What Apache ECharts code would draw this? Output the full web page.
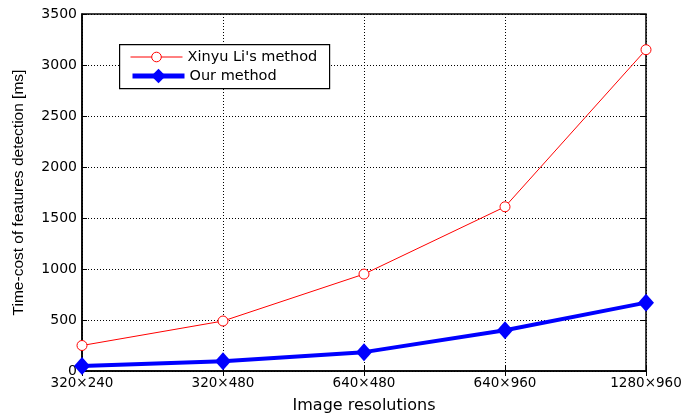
<!DOCTYPE html>
<html><head><meta charset="utf-8">
<script src="https://cdn.jsdelivr.net/npm/echarts@6/dist/echarts.min.js"></script>
<style>html,body{margin:0;padding:0;background:#fff}#c{width:683px;height:414px}</style>
</head><body><div id="c"></div>
<script>
const categories = ['320×240','320×480','640×480','640×960','1280×960'];
const xinyuValues = [250, 490, 950, 1610, 3150];
const ourValues = [50, 95, 185, 400, 670];
const yTicks = [0,500,1000,1500,2000,2500,3000,3500];
const seriesNames = ["Xinyu Li's method", 'Our method'];

const wide = 'DejaVu Sans, sans-serif';
const narrow = 'Liberation Sans, Arial, sans-serif';
const chart = echarts.init(document.getElementById('c'));
const hiddenAxis = {
  axisLine:{show:false}, axisLabel:{show:false}, splitLine:{show:false},
  axisTick:{show:true, inside:true, length:5, lineStyle:{color:'#000'}}
};
const legendText = {fontFamily:wide, fontSize:14.5, color:'#000', lineHeight:16};
chart.setOption({
  animation:false,
  grid:{left:82, right:37, top:14, bottom:43, containLabel:false, outerBoundsMode:'none',
    show:true, borderColor:'#000', borderWidth:1.5, backgroundColor:'transparent'},
  graphic:[{
    type:'rect', left:119, top:44, z:5,
    shape:{width:210, height:44},
    style:{fill:'#fff', stroke:'#000', lineWidth:1.2}
  }],
  legend:[{
    left:130, top:49, itemWidth:52, itemHeight:12, padding:0, z:10,
    textStyle:legendText,
    data:[{name:seriesNames[0],
      itemStyle:{color:'#fff', borderColor:'#ff0000', borderWidth:1},
      lineStyle:{color:'#ff0000', width:1}}]
  },{
    left:130, top:68, itemWidth:52, itemHeight:18, padding:0, z:10,
    textStyle:legendText,
    data:[{name:seriesNames[1],
      itemStyle:{color:'#0000ff', borderColor:'#0000ff', borderWidth:0},
      lineStyle:{color:'#0000ff', width:5}}]
  }],
  xAxis:[{
    type:'category', data:categories, boundaryGap:false,
    name:'Image resolutions', nameLocation:'middle', nameGap:27,
    nameTextStyle:{fontFamily:wide, fontSize:16, color:'#000'},
    axisLine:{lineStyle:{color:'#000', width:1.5}},
    axisTick:{inside:true, length:5, alignWithLabel:true, lineStyle:{color:'#000'}},
    axisLabel:{fontFamily:wide, fontSize:13.5, color:'#000', margin:5},
    splitLine:{show:true, lineStyle:{color:'#000', type:[1,2], width:1}}
  },{
    type:'category', data:categories, boundaryGap:false, position:'top', ...hiddenAxis
  }],
  yAxis:[{
    type:'value', min:0, max:3500, interval:500,
    name:'Time-cost of features detection [ms]', nameLocation:'middle', nameGap:55,
    nameTextStyle:{fontFamily:narrow, fontSize:15.5, color:'#000'},
    axisLine:{show:true, lineStyle:{color:'#000', width:1.5}},
    axisTick:{show:true, inside:true, length:5, lineStyle:{color:'#000'}},
    axisLabel:{fontFamily:wide, fontSize:14, color:'#000', margin:5,
      formatter:v=>yTicks.includes(v)?String(v):''},
    splitLine:{show:true, lineStyle:{color:'#000', type:[1,2], width:1}}
  },{
    type:'value', min:0, max:3500, interval:500, position:'right', ...hiddenAxis
  }],
  series:[{
    name:seriesNames[0], type:'line', data:xinyuValues,
    symbol:'circle', symbolSize:10, showAllSymbol:true,
    itemStyle:{color:'#fff', borderColor:'#ff0000', borderWidth:1},
    lineStyle:{color:'#ff0000', width:1}, z:3
  },{
    name:seriesNames[1], type:'line', data:ourValues,
    symbol:'diamond', symbolSize:[16,18], showAllSymbol:true,
    itemStyle:{color:'#0000ff', borderColor:'#0000ff', borderWidth:0},
    lineStyle:{color:'#0000ff', width:4}, z:4
  }]
});
</script></body></html>
